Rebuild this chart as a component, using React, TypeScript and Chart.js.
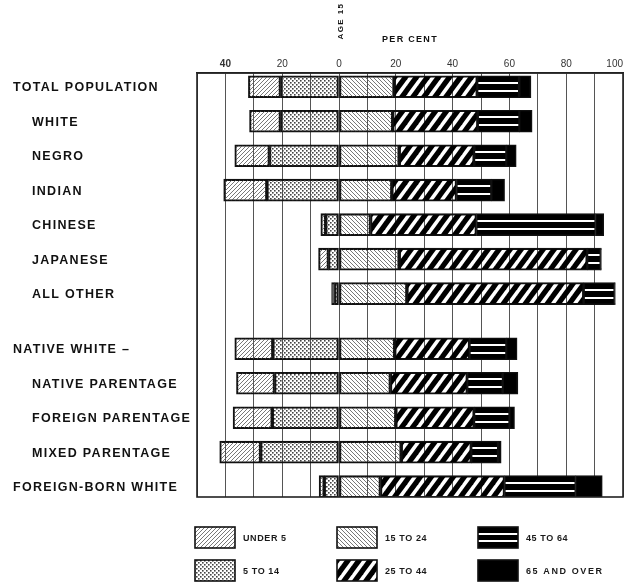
import React, { useEffect, useRef } from "react";
import { Chart, registerables } from "chart.js";

Chart.register(...registerables);

// ---------- data (percent of each population group, by age) ----------
const categories = [
  "TOTAL POPULATION",
  "WHITE",
  "NEGRO",
  "INDIAN",
  "CHINESE",
  "JAPANESE",
  "ALL OTHER",
  "NATIVE WHITE \u2013",
  "NATIVE PARENTAGE",
  "FOREIGN PARENTAGE",
  "MIXED PARENTAGE",
  "FOREIGN-BORN WHITE",
];
const indented = [false, true, true, true, true, true, true, false, true, true, true, false];
const ageGroups = ["UNDER 5", "5 TO 14", "15 TO 24", "25 TO 44", "45 TO 64", "65 AND OVER"];

const under5 = [11.3, 10.9, 12.2, 15.2, 1.7, 3.5, 1.0, 13.4, 13.4, 13.8, 14.4, 1.8];
const age5to14 = [20.6, 20.6, 24.5, 25.4, 4.7, 3.7, 1.6, 23.3, 22.7, 23.5, 27.6, 5.2];
const age15to24 = [19.4, 18.9, 21.2, 18.6, 11.1, 21.2, 23.9, 19.6, 18.1, 20.0, 21.9, 14.6];
const age25to44 = [29.3, 30.0, 26.4, 22.8, 37.3, 66.2, 62.3, 26.4, 27.1, 27.6, 24.7, 43.7];
const age45to64 = [14.7, 14.6, 11.3, 12.2, 41.9, 4.7, 10.8, 12.9, 12.5, 12.4, 9.4, 25.0];
const age65over = [4.2, 4.5, 3.5, 4.7, 2.9, 0.3, 0.3, 3.8, 5.3, 1.8, 1.1, 9.4];

const xMin = -50;
const xMax = 100;
const xStep = 10;
const labelledTicks = [-40, -20, 0, 20, 40, 60, 80, 100];

// ---------- layout helpers ----------
const SECTION_BREAK = 7;
const SECTION_GAP = 0.6;
const rowPos = (i: number) => i + (i >= SECTION_BREAK ? SECTION_GAP : 0);
const BAR = 22;
const FONT = '"Liberation Sans", Arial, Helvetica, sans-serif';

function tile(w: number, h: number, draw: (g: CanvasRenderingContext2D) => void) {
  const c = document.createElement("canvas");
  c.width = w;
  c.height = h;
  const g = c.getContext("2d")!;
  draw(g);
  return c;
}

// lines x/w + y/h = k ("/") or x/w - y/h = k ("\")
function diagTile(w: number, h: number, width: number, color: string, forward: boolean) {
  return tile(w, h, (g) => {
    g.strokeStyle = color;
    g.lineWidth = width;
    g.lineCap = "butt";
    for (const k of [-2, -1, 0, 1, 2, 3]) {
      g.beginPath();
      if (forward) {
        g.moveTo(k * w - 2 * w, 2 * h);
        g.lineTo(k * w + 2 * w, -2 * h);
      } else {
        g.moveTo(k * w - 2 * w, -2 * h);
        g.lineTo(k * w + 2 * w, 2 * h);
      }
      g.stroke();
    }
  });
}

function buildPatterns(ctx: CanvasRenderingContext2D) {
  const u5 = ctx.createPattern(diagTile(4, 4, 0.8, "#555", true), "repeat")!;
  const a15 = ctx.createPattern(diagTile(4, 4, 0.8, "#555", false), "repeat")!;
  const a5 = ctx.createPattern(
    tile(4, 4, (g) => {
      g.fillStyle = "#444";
      g.fillRect(0, 0, 1.6, 1.6);
      g.fillRect(2, 2, 1.6, 1.6);
    }),
    "repeat"
  )!;
  const a25 = ctx.createPattern(diagTile(11, 15, 5.2, "#000", true), "repeat")!;
  return { u5, a5, a15, a25 };
}

const stripeCanvas = tile(4, BAR, (g) => {
  g.fillStyle = "#000";
  g.fillRect(0, 0, 4, BAR);
  g.fillStyle = "#fff";
  g.fillRect(0, 6, 4, 2);
  g.fillRect(0, 14, 4, 2);
});

function drawStripeSwatch(ctx: CanvasRenderingContext2D, x: number, y: number, w: number, h: number) {
  ctx.fillStyle = "#000";
  ctx.fillRect(x, y, w, h);
  ctx.fillStyle = "#fff";
  ctx.fillRect(x, y + h / 3 - 1, w, 2);
  ctx.fillRect(x, y + (2 * h) / 3 - 1, w, 2);
}

export default function App() {
  const ref = useRef<HTMLCanvasElement>(null);

  useEffect(() => {
    const canvas = ref.current!;
    const ctx = canvas.getContext("2d")!;
    const pats = buildPatterns(ctx);

    const ranges: [number, number][][] = [[], [], [], [], [], []];
    categories.forEach((_, i) => {
      const a = under5[i], b = age5to14[i];
      const c = age15to24[i], d = age25to44[i], e = age45to64[i], f = age65over[i];
      ranges[0].push([-(a + b), -b]);
      ranges[1].push([-b, 0]);
      ranges[2].push([0, c]);
      ranges[3].push([c, c + d]);
      ranges[4].push([c + d, c + d + e]);
      ranges[5].push([c + d + e, c + d + e + f]);
    });

    const stripeBg = (sc: any) => {
      const pat = sc.chart.ctx.createPattern(stripeCanvas, "repeat");
      const ys = sc.chart.scales?.y;
      if (sc.type === "data" && ys && pat) {
        const top = Math.round(ys.getPixelForValue(rowPos(sc.dataIndex)) - BAR / 2);
        pat.setTransform(new DOMMatrix().translateSelf(0, top));
      }
      return pat || "#000";
    };

    const fills: any[] = [pats.u5, pats.a5, pats.a15, pats.a25, stripeBg, "#000"];

    const datasets = ageGroups.map((g, k) => ({
      label: g,
      data: ranges[k].map((r, i) => ({ x: r, y: rowPos(i) })),
      backgroundColor: fills[k],
      borderColor: "#111",
      borderWidth: 1.4,
      borderSkipped: false as const,
      grouped: false,
      barThickness: BAR,
    }));

    const decor = {
      id: "decor",
      afterDraw(chart: any) {
        const { ctx: c, chartArea: a, scales } = chart;
        const y = scales.y;
        const x = scales.x;
        c.save();
        // frame
        c.strokeStyle = "#222";
        c.lineWidth = 1.6;
        c.strokeRect(a.left, a.top, a.right - a.left, a.bottom - a.top);

        // category labels
        c.fillStyle = "#111";
        c.textBaseline = "middle";
        c.textAlign = "left";
        c.font = `bold 12.5px ${FONT}`;
        (c as any).letterSpacing = "1.3px";
        categories.forEach((name, i) => {
          c.fillText(name, indented[i] ? 32 : 13, y.getPixelForValue(rowPos(i)) + 1);
        });

        // titles
        c.textAlign = "center";
        c.font = `bold 9px ${FONT}`;
        (c as any).letterSpacing = "1.3px";
        c.fillText("PER CENT", x.getPixelForValue(25), 40);
        c.save();
        c.translate(x.getPixelForValue(0) + 2, 21);
        c.rotate(-Math.PI / 2);
        c.font = `bold 8px ${FONT}`;
        (c as any).letterSpacing = "1.4px";
        c.fillText("AGE 15", 0, 0);
        c.restore();

        // legend
        const colX = [195, 337, 478];
        const rowY = [527, 560];
        const sw = 40, sh = 21;
        c.textAlign = "left";
        c.font = `bold 9px ${FONT}`;
        ageGroups.forEach((g, k) => {
          const sx = colX[Math.floor(k / 2)];
          const sy = rowY[k % 2];
          c.fillStyle = "#fff";
          c.fillRect(sx, sy, sw, sh);
          if (k === 4) drawStripeSwatch(c, sx, sy, sw, sh);
          else {
            c.fillStyle = fills[k];
            c.fillRect(sx, sy, sw, sh);
          }
          c.strokeStyle = "#111";
          c.lineWidth = 1.6;
          c.strokeRect(sx, sy, sw, sh);
          c.fillStyle = "#1a1a1a";
          (c as any).letterSpacing = k === 5 ? "1.6px" : "0.6px";
          c.fillText(g, sx + sw + 8, sy + sh / 2 + 1);
        });
        c.restore();
      },
    };

    const chart = new Chart(canvas, {
      type: "bar",
      data: { datasets },
      options: {
        indexAxis: "y",
        animation: false,
        responsive: false,
        devicePixelRatio: 1,
        events: [],
        layout: { padding: { left: 197, right: 6, top: 55, bottom: 88 } },
        plugins: { legend: { display: false }, tooltip: { enabled: false } },
        scales: {
          x: {
            type: "linear",
            position: "top",
            min: xMin,
            max: xMax,
            offset: false,
            afterFit: (s: any) => {
              s.paddingLeft = 0;
              s.paddingRight = 0;
            },
            ticks: {
              stepSize: xStep,
              padding: 3,
              color: "#333",
              autoSkip: false,
              maxRotation: 0,
              align: "inner",
              font: (sc: any) => ({
                family: FONT,
                size: 10,
                weight: sc.tick && sc.tick.value === -40 ? "bold" : "normal",
              }),
              callback: (v: any) => (labelledTicks.includes(Number(v)) ? String(Math.abs(Number(v))) : ""),
            },
            grid: { color: "#555", lineWidth: 1, drawTicks: false },
            border: { display: true, color: "#222", width: 1.5 },
          },
          y: {
            type: "linear",
            reverse: true,
            offset: false,
            min: -0.4,
            max: 11.9,
            display: false,
          },
        },
      },
      plugins: [decor],
    } as any);

    return () => chart.destroy();
  }, []);

  return (
    <div style={{ position: "fixed", left: 0, top: 0, width: 629, height: 585, background: "#fff" }}>
      <canvas ref={ref} width={629} height={585} style={{ display: "block" }} />
    </div>
  );
}
